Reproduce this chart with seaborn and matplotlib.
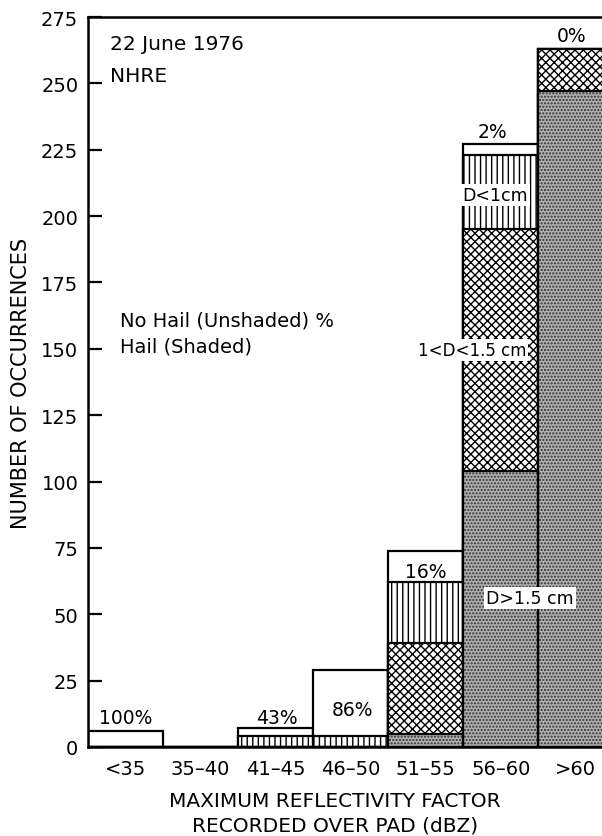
# hail occurrence histogram vs maximum reflectivity (22 June 1976, NHRE)
import matplotlib
matplotlib.use("Agg")
import matplotlib.pyplot as plt
import seaborn as sns
import numpy as np

# data
categories = ["<35", "35–40", "41–45", "46–50", "51–55", "56–60", ">60"]
no_hail = [6, 0, 3, 25, 12, 4, 0]          # unshaded
hail_small = [0, 0, 4, 4, 23, 28, 0]       # D<1cm (vertical lines)
hail_medium = [0, 0, 0, 0, 34, 91, 16]     # 1<D<1.5cm (cross hatch)
hail_large = [0, 0, 0, 0, 5, 104, 247]     # D>1.5cm (stipple)
pct_labels = ["100%", "", "43%", "86%", "16%", "2%", "0%"]
y_ticks = list(range(0, 276, 25))

sns.set_theme(style="white")
plt.rcParams["font.family"] = ["DejaVu Sans"]
plt.rcParams["hatch.linewidth"] = 1.0
for key in ["text.color", "axes.labelcolor", "xtick.color", "ytick.color"]:
    plt.rcParams[key] = "black"

# cumulative layers, drawn from the tallest down so each one covers the rest
large = np.array(hail_large)
medium = large + np.array(hail_medium)
hail_total = medium + np.array(hail_small)
total = hail_total + np.array(no_hail)

fig = plt.figure(figsize=(6.02, 8.37), dpi=100)
ax = fig.add_axes([88 / 602, 1 - 748 / 837, 514 / 602, 730 / 837])

common = dict(x=categories, order=categories, width=1, saturation=1,
              errorbar=None, ax=ax)
sns.barplot(y=total, color="white", edgecolor="black", linewidth=1.6, **common)
sns.barplot(y=hail_total, color="white", edgecolor="black", linewidth=1.6,
            hatch="|||", **common)
sns.barplot(y=medium, color="white", edgecolor="black", linewidth=1.6,
            hatch="xxxx", **common)
sns.barplot(y=large, color="#b0b0b0", edgecolor="#303030", linewidth=0,
            hatch=".....", **common)
sns.barplot(y=large, color="black", fill=False, linewidth=1.6, **common)

ax.set_xlim(-0.5, 6.35)
ax.set_ylim(0, 275)
ax.set_yticks(y_ticks)
ax.set_xlabel("")
ax.set_ylabel("")
ax.tick_params(axis="y", direction="in", length=10, width=1.6, pad=7,
               labelsize=14, left=True)
ax.tick_params(axis="x", length=0, pad=9, labelsize=14)
for side in ["left", "top", "bottom"]:
    ax.spines[side].set_visible(True)
    ax.spines[side].set_linewidth(1.8)
    ax.spines[side].set_color("black")
ax.spines["right"].set_visible(False)

# percentage of no-hail cases
pct_pos = {0: (0, 11), 2: (2.02, 11), 3: (3.03, 14), 4: (4.0, 66),
           5: (4.89, 232), 6: (5.95, 268)}
for i, (px, py) in pct_pos.items():
    ax.text(px, py, pct_labels[i], ha="center", va="center", fontsize=13.5)

box = dict(facecolor="white", edgecolor="none", pad=1.5)
ax.text(4.93, 208, "D<1cm", ha="center", va="center", fontsize=12.5, bbox=box)
ax.text(4.62, 149.5, "1<D<1.5 cm", ha="center", va="center", fontsize=12,
        bbox=box)
ax.text(5.39, 56, "D>1.5 cm", ha="center", va="center", fontsize=12.5, bbox=box)

ax.text(-0.21, 265, "22 June 1976", ha="left", va="center", fontsize=14.5)
ax.text(-0.21, 253, "NHRE", ha="left", va="center", fontsize=14.5)
ax.text(-0.07, 161, "No Hail (Unshaded) %", ha="left", va="center", fontsize=14)
ax.text(-0.07, 151, "Hail (Shaded)", ha="left", va="center", fontsize=14)

fig.text(21 / 602, 1 - 383 / 837, "NUMBER OF OCCURRENCES", rotation=90,
         ha="center", va="center", fontsize=15)
fig.text(335 / 602, 1 - 802 / 837, "MAXIMUM REFLECTIVITY FACTOR",
         ha="center", va="center", fontsize=14.5)
fig.text(335 / 602, 1 - 826 / 837, "RECORDED OVER PAD (dBZ)",
         ha="center", va="center", fontsize=14.5)

fig.savefig("out.png", dpi=100)
